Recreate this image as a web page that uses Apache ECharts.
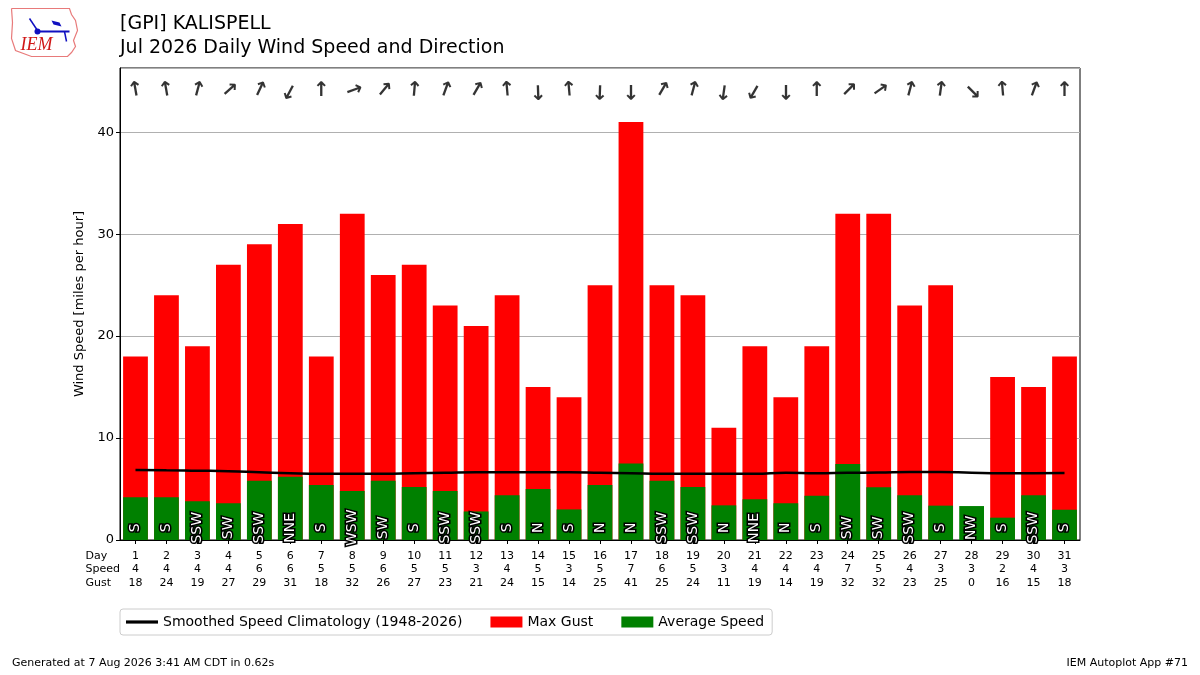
<!DOCTYPE html>
<html>
<head>
<meta charset="utf-8">
<script src="https://cdn.jsdelivr.net/npm/echarts@6/dist/echarts.min.js"></script>
<style>
  html, body { margin: 0; padding: 0; background: #fff; }
  #main { width: 1200px; height: 675px; }
</style>
</head>
<body>
<div id="main"></div>
<script>
// days of the month
var days = [1,2,3,4,5,6,7,8,9,10,11,12,13,14,15,16,17,18,19,20,21,22,23,24,25,26,27,28,29,30,31];
// average speed (mph), rounded values printed under the axis
var speedTxt = [4,4,4,4,6,6,5,5,6,5,5,3,4,5,3,5,7,6,5,3,4,4,4,7,5,4,3,3,2,4,3];
// average speed as drawn (bar heights)
var avgSpeed = [4.2,4.2,3.8,3.6,5.8,6.2,5.4,4.8,5.8,5.2,4.8,2.8,4.4,5.0,3.0,5.4,7.5,5.8,5.2,3.4,4.0,3.6,4.35,7.45,5.17,4.4,3.37,3.33,2.19,4.4,2.97];
// max gust (mph)
var maxGust = [18,24,19,27,29,31,18,32,26,27,23,21,24,15,14,25,41,25,24,11,19,14,19,32,32,23,25,0,16,15,18];
// wind direction (degrees, from)
var windDir = [170,170,195,228,205,28,180,250,220,185,200,210,175,358,175,2,0,210,195,8,30,0,180,225,235,195,188,315,175,200,180];
// direction text
var dirTxt = ['S','S','SSW','SW','SSW','NNE','S','WSW','SW','S','SSW','SSW','S','N','S','N','N','SSW','SSW','N','NNE','N','S','SW','SW','SSW','S','NW','S','SSW','S'];
// smoothed speed climatology (1948-2026)
var climo = [6.86,6.85,6.8,6.75,6.65,6.55,6.5,6.5,6.5,6.55,6.6,6.65,6.65,6.65,6.65,6.6,6.55,6.5,6.5,6.5,6.5,6.6,6.55,6.6,6.62,6.68,6.68,6.6,6.55,6.55,6.56];

var ARROW_Y = 44.1;
var LABEL_Y = 1.2;

var chart = echarts.init(document.getElementById('main'));

var arrowData = days.map(function (d, i) {
  return {
    value: [i, ARROW_Y],
    label: { rotate: -((windDir[i] + 180) % 360) }
  };
});

var labelData = days.map(function (d, i) {
  return [i, LABEL_Y];
});

var option = {
  animation: false,
  backgroundColor: '#fff',
  textStyle: { fontFamily: 'DejaVu Sans' },
  grid: {
    left: 120, right: 120, top: 68, bottom: 135,
    show: true, borderColor: '#000', borderWidth: 1, backgroundColor: 'transparent'
  },
  xAxis: {
    type: 'category',
    data: days.map(String),
    boundaryGap: true,
    axisLine: { show: true, lineStyle: { color: '#000' } },
    axisTick: { show: true, alignWithLabel: true, length: 4, lineStyle: { color: '#000' } },
    axisLabel: {
      interval: 0,
      color: '#000',
      fontSize: 11,
      lineHeight: 13.5,
      margin: 9,
      formatter: function (v, i) {
        return days[i] + '\n' + speedTxt[i] + '\n' + maxGust[i];
      }
    },
    splitLine: { show: false }
  },
  yAxis: {
    type: 'value',
    min: 0,
    max: 46.3,
    interval: 10,
    name: 'Wind Speed [miles per hour]',
    nameLocation: 'middle',
    nameGap: 32,
    nameTextStyle: { color: '#000', fontSize: 13 },
    axisLine: { show: true, lineStyle: { color: '#000' } },
    axisTick: { show: true, length: 4, lineStyle: { color: '#000' } },
    axisLabel: { color: '#000', fontSize: 13, showMaxLabel: false, margin: 6 },
    splitLine: { show: true, lineStyle: { color: '#b0b0b0', width: 1 } }
  },
  legend: {
    left: 120,
    top: 609,
    orient: 'horizontal',
    data: [
      { name: 'Smoothed Speed Climatology (1948-2026)', icon: 'path://M0,0 H30 V3 H0 Z' },
      { name: 'Max Gust', icon: 'rect' },
      { name: 'Average Speed', icon: 'rect' }
    ],
    itemWidth: 32,
    itemHeight: 11,
    itemGap: 28,
    padding: [6, 8, 6, 6],
    borderColor: '#cccccc',
    borderWidth: 1,
    borderRadius: 3,
    textStyle: { color: '#000', fontSize: 14 }
  },
  graphic: [
    { type: 'text', left: 120, top: 15, style: { text: '[GPI] KALISPELL', fontSize: 19, fill: '#000', fontFamily: 'DejaVu Sans' } },
    { type: 'text', left: 120, top: 39, style: { text: 'Jul 2026 Daily Wind Speed and Direction', fontSize: 19, fill: '#000', fontFamily: 'DejaVu Sans' } },
    { type: 'text', right: 12, top: 658, style: { text: 'IEM Autoplot App #71', fontSize: 11, fill: '#000', fontFamily: 'DejaVu Sans' } },
    { type: 'text', left: 12, top: 658, style: { text: 'Generated at 7 Aug 2026 3:41 AM CDT in 0.62s', fontSize: 11, fill: '#000', fontFamily: 'DejaVu Sans' } },
    { type: 'text', right: 1080, top: 549, style: { text: 'Day\nSpeed\nGust', fontSize: 11, lineHeight: 13.5, fill: '#000', align: 'right', fontFamily: 'DejaVu Sans' } },
    // IEM logo
    {
      type: 'group', left: 9, top: 6,
      children: [
        { type: 'polyline', shape: { points: [[2,2],[60,2],[62,8],[66,14],[68,24],[64,34],[66,40],[62,46],[58,50],[22,50],[6,44],[2,32],[3,16],[2,2]] },
          style: { stroke: '#e87a7a', fill: 'none', lineWidth: 1.2 } },
        { type: 'line', shape: { x1: 27, y1: 25, x2: 60, y2: 25 }, style: { stroke: '#1010c0', lineWidth: 2 } },
        { type: 'circle', shape: { cx: 28, cy: 25, r: 3 }, style: { fill: '#1010c0' } },
        { type: 'line', shape: { x1: 20, y1: 12, x2: 28, y2: 24 }, style: { stroke: '#1010c0', lineWidth: 1.5 } },
        { type: 'polygon', shape: { points: [[42,14],[50,16],[52,20],[44,18]] }, style: { fill: '#1010c0' } },
        { type: 'line', shape: { x1: 55, y1: 25, x2: 57, y2: 35 }, style: { stroke: '#1010c0', lineWidth: 1.5 } },
        { type: 'text', left: 11, top: 30, style: { text: 'IEM', fontSize: 18, fontStyle: 'italic', fontFamily: 'Liberation Serif', fill: '#d01818' } }
      ]
    }
  ],
  series: [
    {
      name: 'Max Gust',
      type: 'bar',
      data: maxGust,
      barWidth: '80%',
      barGap: '-100%',
      itemStyle: { color: '#ff0000' },
      z: 2
    },
    {
      name: 'Average Speed',
      type: 'bar',
      data: avgSpeed,
      barWidth: '80%',
      itemStyle: { color: '#008000' },
      z: 3
    },
    {
      name: 'Smoothed Speed Climatology (1948-2026)',
      type: 'line',
      data: climo,
      symbol: 'none',
      smooth: true,
      lineStyle: { color: '#000', width: 2.5 },
      itemStyle: { color: '#000' },
      z: 5
    },
    {
      name: 'dirLabels',
      type: 'custom',
      data: labelData,
      z: 6,
      renderItem: function (params, api) {
        var p = api.coord([api.value(0), api.value(1)]);
        return {
          type: 'text',
          x: p[0],
          y: p[1],
          rotation: Math.PI / 2,
          style: {
            text: dirTxt[params.dataIndex],
            fill: '#fff',
            stroke: '#000',
            lineWidth: 3,
            strokeFirst: true,
            fontSize: 14,
            fontFamily: 'DejaVu Sans',
            align: 'center',
            verticalAlign: 'middle'
          }
        };
      }
    },
    {
      name: 'arrows',
      type: 'scatter',
      data: arrowData,
      symbolSize: 1,
      itemStyle: { color: 'transparent' },
      label: {
        show: true,
        position: 'inside',
        formatter: '\u2191',
        color: '#000',
        fontSize: 20,
        fontWeight: 'bold',
        fontFamily: 'DejaVu Sans'
      },
      z: 6
    }
  ]
};

chart.setOption(option);
</script>
</body>
</html>
